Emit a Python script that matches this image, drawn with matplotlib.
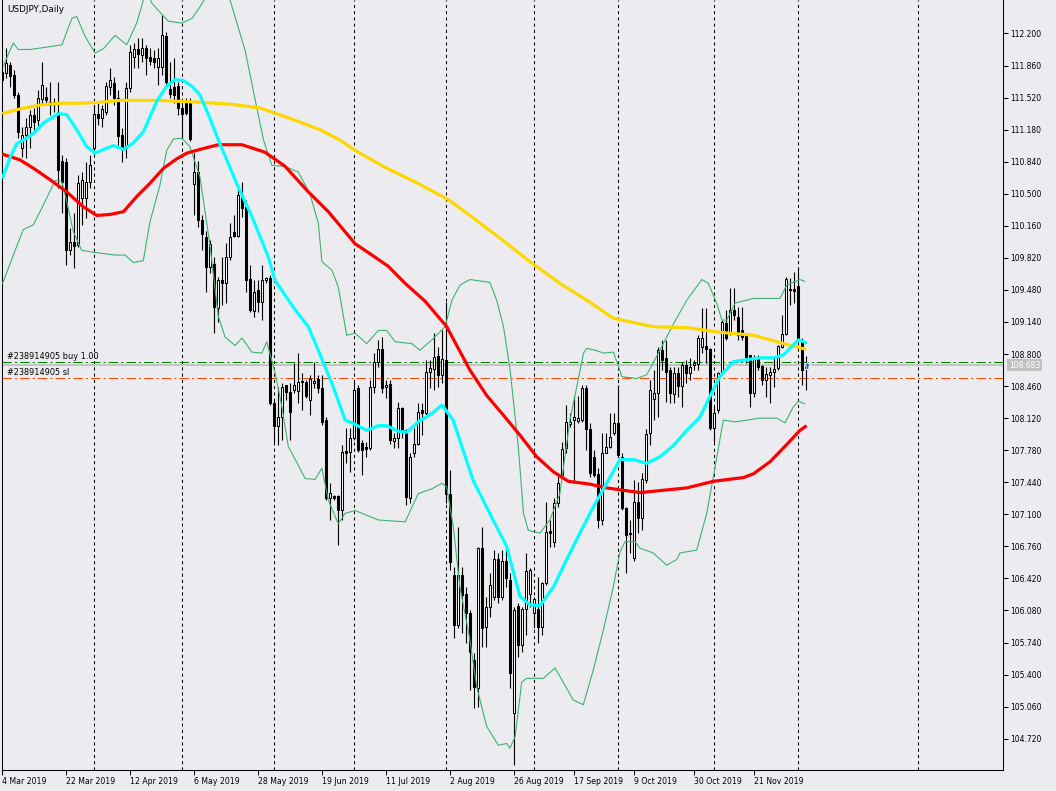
import matplotlib
matplotlib.use("Agg")
import matplotlib.pyplot as plt
import matplotlib.transforms as mtransforms
from matplotlib.path import Path
import numpy as np

# USDJPY daily bars, bar 0 = first visible bar on the chart
opens = [
    111.79, 111.78, 111.87, 111.76, 111.55, 110.99, 111.12, 111.21, 111.34, 111.28,
    111.50, 111.53, 111.47, 111.47, 111.37, 110.85, 110.84, 109.90, 109.99, 109.96,
    110.45, 110.45, 110.62, 110.99, 111.35, 111.30, 111.37, 111.63, 111.67, 111.52,
    111.12, 110.99, 111.62, 111.95, 112.04, 111.97, 112.05, 111.95, 111.94, 111.84,
    111.84, 112.17, 111.61, 111.63, 111.64, 111.41, 111.48, 111.48, 110.60, 110.73,
    110.22, 110.04, 109.72, 109.75, 109.29, 109.59, 109.55, 109.83, 110.09, 110.05,
    110.49, 110.36, 109.60, 109.26, 109.48, 109.35, 109.59, 109.61, 108.28, 108.04,
    108.13, 108.47, 108.40, 108.42, 108.41, 108.51, 108.50, 108.31, 108.49, 108.54,
    108.44, 108.10, 107.27, 107.29, 107.29, 107.15, 107.77, 107.76, 107.91, 108.44,
    107.86, 107.81, 107.80, 108.45, 108.72, 108.85, 108.45, 108.48, 107.88, 107.91,
    108.23, 107.99, 107.27, 107.75, 107.85, 108.21, 108.17, 108.61, 108.64, 108.78,
    108.58, 108.74, 107.32, 106.46, 105.93, 106.46, 106.26, 106.05, 105.55, 105.26,
    106.74, 105.91, 106.12, 106.22, 106.63, 106.22, 106.60, 106.40, 104.99, 106.13,
    105.71, 106.10, 106.26, 106.05, 106.10, 105.91, 106.37, 106.92, 106.81, 107.22,
    107.52, 107.80, 108.06, 108.10, 108.09, 108.10, 108.44, 108.00, 107.71, 107.53,
    107.04, 107.75, 107.81, 107.96, 108.07, 107.71, 107.17, 106.90, 106.64, 107.23,
    107.06, 107.46, 107.96, 108.32, 108.39, 108.84, 108.76, 108.63, 108.38, 108.60,
    108.46, 108.68, 108.60, 108.68, 108.69, 108.87, 108.88, 108.85, 108.02, 108.21,
    108.60, 109.13, 109.03, 109.27, 109.19, 109.05, 109.00, 108.79, 108.39, 108.76,
    108.67, 108.52, 108.58, 108.61, 108.65, 108.87, 109.01, 109.49, 109.49, 109.52,
    108.93, 108.65,
]
highs = [
    111.94, 112.05, 111.90, 111.81, 111.58, 111.21, 111.30, 111.39, 111.41, 111.60,
    111.90, 111.63, 111.69, 111.52, 111.69, 110.91, 110.88, 110.14, 110.30, 110.70,
    110.73, 110.84, 110.91, 111.44, 111.47, 111.44, 111.69, 111.83, 111.74, 111.60,
    111.20, 111.69, 112.08, 112.10, 112.15, 112.15, 112.08, 112.05, 112.02, 112.05,
    112.40, 112.22, 111.90, 111.94, 111.69, 111.47, 111.52, 111.52, 110.93, 110.85,
    110.27, 110.10, 110.01, 109.83, 109.62, 109.83, 109.98, 110.19, 110.27, 110.57,
    110.62, 110.43, 109.74, 109.59, 109.59, 109.74, 109.62, 109.64, 108.31, 108.45,
    108.49, 108.47, 108.49, 108.70, 108.81, 108.60, 108.52, 108.58, 108.72, 108.58,
    108.58, 108.13, 107.43, 107.30, 107.30, 107.84, 108.02, 108.02, 108.52, 108.47,
    107.89, 107.87, 108.52, 108.81, 108.95, 108.98, 108.52, 108.52, 107.96, 108.29,
    108.24, 108.01, 107.75, 108.02, 108.28, 108.28, 108.74, 108.74, 109.02, 108.87,
    109.05, 109.35, 107.57, 106.54, 106.97, 106.54, 106.33, 106.08, 105.63, 106.75,
    106.97, 106.22, 106.48, 106.72, 106.69, 106.72, 106.75, 106.48, 106.12, 106.16,
    106.12, 106.69, 106.53, 106.22, 106.43, 106.38, 107.23, 107.04, 107.27, 107.54,
    107.87, 108.26, 108.17, 108.36, 108.36, 108.47, 108.47, 108.07, 107.78, 107.59,
    107.96, 107.96, 108.17, 108.17, 108.47, 107.75, 107.18, 107.04, 107.46, 107.44,
    107.54, 108.01, 108.52, 108.63, 108.87, 108.95, 108.95, 108.66, 108.66, 108.66,
    108.72, 108.74, 108.76, 108.74, 109.00, 109.29, 109.29, 108.86, 108.24, 108.61,
    109.16, 109.27, 109.50, 109.50, 109.30, 109.30, 109.02, 108.79, 108.79, 108.79,
    108.68, 108.66, 108.66, 108.77, 108.90, 109.21, 109.62, 109.61, 109.67, 109.72,
    108.97, 108.78,
]
lows = [
    111.68, 111.73, 111.63, 111.52, 111.09, 110.89, 110.88, 110.99, 111.18, 111.20,
    111.45, 111.44, 111.34, 111.37, 110.56, 110.30, 109.74, 109.85, 109.71, 109.93,
    110.17, 110.24, 110.56, 110.91, 111.23, 111.21, 111.34, 111.55, 111.44, 111.02,
    110.84, 110.88, 111.58, 111.83, 111.83, 111.90, 111.76, 111.87, 111.83, 111.65,
    111.76, 111.65, 111.52, 111.46, 111.34, 111.09, 111.34, 111.06, 110.27, 110.15,
    109.90, 109.46, 109.66, 109.02, 109.14, 109.32, 109.34, 109.80, 110.04, 110.04,
    110.25, 109.46, 109.25, 109.19, 109.25, 109.16, 109.55, 108.26, 107.87, 107.84,
    107.89, 108.31, 107.89, 108.39, 108.28, 108.21, 108.33, 108.15, 108.44, 108.39,
    108.05, 107.25, 107.04, 107.25, 106.77, 107.04, 107.64, 107.55, 107.89, 107.76,
    107.52, 107.71, 107.78, 108.39, 108.66, 108.39, 108.33, 107.85, 107.80, 107.80,
    107.91, 107.20, 107.22, 107.71, 107.84, 107.94, 108.15, 108.44, 108.42, 108.45,
    108.49, 107.22, 106.51, 105.79, 105.89, 105.84, 105.73, 105.24, 105.05, 105.06,
    105.69, 105.69, 106.01, 106.19, 106.16, 106.19, 106.33, 105.26, 104.44, 105.59,
    105.64, 105.82, 106.12, 105.89, 105.73, 105.82, 106.35, 106.75, 106.75, 107.18,
    107.50, 107.75, 108.03, 107.44, 108.07, 108.08, 107.78, 107.50, 107.50, 106.95,
    106.99, 107.75, 107.80, 107.94, 107.71, 107.15, 106.48, 106.69, 106.61, 106.90,
    106.93, 107.43, 107.84, 108.10, 108.13, 108.63, 108.29, 108.28, 108.28, 108.34,
    108.24, 108.49, 108.52, 108.63, 108.63, 108.81, 108.71, 107.99, 107.87, 108.17,
    108.58, 108.95, 109.00, 109.16, 108.95, 108.95, 108.70, 108.24, 108.34, 108.63,
    108.47, 108.34, 108.28, 108.45, 108.63, 108.86, 109.00, 109.32, 109.34, 108.93,
    108.47, 108.42,
]
closes = [
    111.71, 111.89, 111.75, 111.55, 111.15, 111.12, 111.21, 111.34, 111.26, 111.52,
    111.65, 111.49, 111.44, 111.45, 110.75, 110.62, 109.90, 109.99, 109.95, 110.61,
    110.65, 110.62, 110.81, 111.35, 111.30, 111.40, 111.64, 111.71, 111.52, 111.11,
    110.99, 111.62, 112.00, 112.04, 111.98, 112.05, 111.94, 111.91, 111.90, 111.94,
    112.18, 111.69, 111.56, 111.55, 111.41, 111.35, 111.36, 111.08, 110.73, 110.22,
    110.07, 109.72, 109.97, 109.30, 109.59, 109.55, 109.83, 110.04, 110.05, 110.49,
    110.35, 109.59, 109.27, 109.46, 109.35, 109.59, 109.61, 108.28, 108.04, 108.13,
    108.45, 108.40, 108.19, 108.47, 108.50, 108.50, 108.36, 108.54, 108.51, 108.44,
    108.08, 107.27, 107.33, 107.27, 107.15, 107.76, 107.75, 107.91, 108.42, 107.78,
    107.78, 107.79, 108.45, 108.72, 108.85, 108.44, 108.47, 107.89, 107.91, 108.23,
    107.99, 107.28, 107.71, 107.85, 108.18, 108.17, 108.61, 108.65, 108.77, 108.58,
    108.75, 107.32, 106.59, 105.93, 106.46, 106.24, 106.05, 105.64, 105.27, 106.74,
    105.89, 106.12, 106.35, 106.63, 106.22, 106.60, 106.42, 105.42, 106.08, 105.71,
    106.10, 106.50, 106.51, 106.20, 105.91, 106.37, 106.91, 106.90, 107.22, 107.43,
    107.79, 108.08, 108.08, 108.13, 108.12, 108.44, 108.00, 107.54, 107.52, 107.04,
    107.75, 107.81, 107.92, 108.07, 107.73, 107.17, 106.88, 106.89, 107.23, 107.06,
    107.47, 107.95, 108.42, 108.39, 108.84, 108.74, 108.61, 108.39, 108.60, 108.46,
    108.68, 108.60, 108.66, 108.70, 108.97, 108.97, 108.85, 108.02, 108.17, 108.60,
    109.14, 108.97, 109.27, 109.21, 109.00, 108.98, 108.77, 108.39, 108.76, 108.66,
    108.52, 108.59, 108.61, 108.64, 108.88, 109.01, 109.60, 109.48, 109.47, 108.95,
    108.63, 108.683,
]

# indicator lines: (bar, price)
ma_gold = [
    (0, 111.35), (4.4, 111.40), (9.4, 111.44), (14.4, 111.46), (19.4, 111.46), (24.4, 111.47),
    (29.4, 111.49), (34.4, 111.49), (39.4, 111.49), (44.4, 111.48), (49.4, 111.47), (57, 111.45),
    (64.4, 111.41), (71.9, 111.30), (79.4, 111.18), (84.4, 111.07), (88.2, 110.96), (95.7, 110.78),
    (103.9, 110.61), (111.4, 110.44), (116.9, 110.27), (124.4, 110.03), (131.9, 109.78),
    (139.4, 109.55), (146.9, 109.35), (152.7, 109.18), (159.4, 109.12), (162.7, 109.09),
    (171.2, 109.08), (179.4, 109.03), (187.7, 109.00), (193.7, 108.93), (196.2, 108.90), (201, 108.85),
]
ma_red = [
    (0, 110.92), (4.4, 110.86), (7.8, 110.77), (11.9, 110.65), (16.1, 110.52), (20.3, 110.36),
    (23.6, 110.27), (26.9, 110.28), (30.3, 110.31), (33.6, 110.47), (36.9, 110.61), (40.3, 110.77),
    (43.6, 110.87), (46.1, 110.93), (49.4, 110.97), (54, 111.02), (59.9, 111.02), (65.7, 110.94),
    (70.7, 110.79), (76.5, 110.52), (81.5, 110.31), (88.2, 109.97), (92.4, 109.85), (96.5, 109.73),
    (100.7, 109.55), (105.7, 109.36), (111.1, 109.09), (116.9, 108.63), (121.1, 108.36),
    (125.3, 108.15), (129.4, 107.94), (133.6, 107.71), (137.8, 107.55), (141.5, 107.45),
    (146.9, 107.42), (151.1, 107.38), (154.4, 107.36), (159.4, 107.33), (171.1, 107.38),
    (177.8, 107.45), (185.3, 107.49), (187.8, 107.53), (192, 107.66), (196.1, 107.84),
    (199.4, 107.99), (201.1, 108.04),
]
bb_mid = [
    (0, 110.66), (1.9, 110.88), (3.6, 111.03), (6.1, 111.09), (7.8, 111.14), (10.3, 111.25),
    (14, 111.35), (16.1, 111.34), (18.6, 111.18), (21.1, 111.00), (23.2, 110.93), (25.3, 110.97),
    (27.8, 111.01), (30.3, 110.97), (32.8, 111.04), (35.3, 111.16), (38.6, 111.48), (41.1, 111.64),
    (43.2, 111.71), (45.3, 111.70), (47.4, 111.64), (49.4, 111.55), (51.9, 111.30), (54, 111.07),
    (59, 110.57), (62.4, 110.26), (66.5, 109.83), (68.2, 109.58), (73.2, 109.27), (76.5, 109.09),
    (79, 108.84), (82.4, 108.49), (85.7, 108.10), (87.4, 108.07), (91.1, 107.99), (94, 108.04),
    (96.1, 108.04), (99, 107.98), (101.1, 107.97), (104, 108.08), (107.4, 108.17), (109.9, 108.26),
    (112.7, 108.10), (115.2, 107.78), (117.7, 107.46), (122.7, 107.04), (126.1, 106.76),
    (129.4, 106.23), (131.9, 106.14), (134.4, 106.13), (137.8, 106.33), (141.1, 106.62),
    (144.4, 106.90), (147.8, 107.18), (151.1, 107.43), (154.4, 107.68), (157.8, 107.68),
    (161.1, 107.64), (164.4, 107.71), (167.8, 107.83), (171.1, 107.99), (174.4, 108.13),
    (176.9, 108.35), (179.4, 108.56), (182.8, 108.72), (186.1, 108.74), (189.4, 108.76),
    (192.8, 108.76), (195.3, 108.79), (197.4, 108.88), (199.1, 108.95), (200.4, 108.93), (201.1, 108.91),
]
bb_upper = [
    (0.25, 111.85), (1.1, 111.94), (2.75, 112.10), (4, 112.03), (6.9, 112.03), (11.9, 112.06),
    (14.9, 112.08), (17.4, 112.36), (18.6, 112.38), (20.7, 112.17), (23.2, 111.99), (25.3, 112.04),
    (28.2, 112.18), (31.1, 112.08), (33.6, 112.31), (35.3, 112.56), (36.2, 112.64), (37.4, 112.52),
    (41.5, 112.33), (44.9, 112.31), (47.4, 112.36), (49.4, 112.48), (51.9, 112.66), (56.9, 112.56),
    (60.7, 112.02), (63.2, 111.50), (65.3, 111.07), (67.4, 110.80), (70.7, 110.79), (74, 110.73),
    (76.9, 110.50), (79, 110.19), (79.9, 109.78), (82.4, 109.69), (84, 109.51), (86.1, 109.00),
    (88.2, 109.02), (91.1, 108.91), (94, 109.05), (96.1, 109.05), (98.2, 108.93), (102.4, 108.91),
    (104.4, 108.84), (107.4, 108.95), (110.7, 109.09), (112.4, 109.37), (114.4, 109.53),
    (116.9, 109.59), (121.9, 109.56), (123.6, 109.37), (125.3, 109.09), (126.9, 108.65),
    (129, 107.82), (130.3, 107.11), (131.5, 106.93), (134.4, 106.90), (136.9, 107.04),
    (139.4, 107.32), (141.9, 108.10), (143.6, 108.45), (145.3, 108.81), (146.1, 108.86),
    (148.2, 108.84), (150.3, 108.81), (152.8, 108.82), (154.9, 108.56), (158.6, 108.54),
    (161.1, 108.58), (164.4, 108.84), (167.8, 109.12), (171.1, 109.37), (174.9, 109.59),
    (176.5, 109.55), (178.6, 109.34), (179.9, 109.16), (181.1, 109.16), (183.2, 109.34),
    (187.8, 109.39), (194.4, 109.39), (196.1, 109.53), (199.4, 109.59), (200.7, 109.57),
]
bb_lower = [
    (0, 109.54), (2.75, 109.85), (5.25, 110.12), (7.75, 110.17), (10.25, 110.38), (13.2, 110.64),
    (14.85, 110.63), (16.1, 110.42), (17.75, 110.10), (19.85, 109.90), (22.75, 109.88), (28.2, 109.85),
    (30.7, 109.85), (32.75, 109.77), (35.25, 109.79), (36.9, 110.20), (39.4, 110.59), (41.1, 110.96),
    (42.75, 111.08), (44.85, 111.09), (46.9, 111.00), (49.4, 110.68), (51.9, 109.96), (54, 109.20),
    (55.7, 108.98), (58.2, 108.89), (59.9, 108.97), (62.4, 108.82), (64.9, 108.81), (66.1, 108.93),
    (68.2, 108.60), (69.9, 108.24), (71.5, 107.82), (74, 107.62), (75.7, 107.48), (78.2, 107.47),
    (79.9, 107.59), (81.5, 107.25), (84, 107.00), (85.7, 107.11), (88.2, 107.14), (94, 107.04),
    (100.7, 107.02), (104, 107.32), (107.4, 107.37), (109.9, 107.43), (111.1, 107.39),
    (112.75, 106.97), (114.4, 106.33), (116.9, 105.77), (118.6, 105.27), (121.1, 104.85),
    (124, 104.65), (126.1, 104.67), (126.9, 104.62), (128.2, 104.74), (129.85, 105.32),
    (131.1, 105.36), (135.25, 105.36), (138.2, 105.47), (142.75, 105.13), (145.25, 105.08),
    (147.75, 105.45), (150.25, 105.87), (152.75, 106.33), (154.4, 106.70), (155.7, 106.81),
    (158.2, 106.81), (159.4, 106.74), (162.75, 106.69), (166.1, 106.56), (168.6, 106.62),
    (169.4, 106.69), (173.6, 106.72), (176.1, 107.11), (178.2, 107.60), (180.25, 108.10),
    (183.2, 108.08), (189.4, 108.12), (193.6, 108.12), (195.7, 108.07), (197.75, 108.24),
    (199, 108.30), (200.7, 108.27),
]

price_ticks = [112.200, 111.860, 111.520, 111.180, 110.840, 110.500, 110.160, 109.820,
               109.480, 109.140, 108.800, 108.460, 108.120, 107.780, 107.440, 107.100,
               106.760, 106.420, 106.080, 105.740, 105.400, 105.060, 104.720]
date_labels = ["4 Mar 2019", "22 Mar 2019", "12 Apr 2019", "6 May 2019", "28 May 2019",
               "19 Jun 2019", "11 Jul 2019", "2 Aug 2019", "26 Aug 2019", "17 Sep 2019",
               "9 Oct 2019", "30 Oct 2019", "21 Nov 2019"]
date_label_bars = [0, 16, 32, 48, 64, 80, 96, 112, 128, 143, 158, 173, 188]
month_start_bars = [23, 45, 68, 88, 111, 133, 154, 178, 199, 229]

order_id = "#238914905"
buy_price = 108.715
sl_price = 108.546
bid_price = 108.683

BG = "#ECECF0"
W, H = 1056, 791

fig = plt.figure(figsize=(W / 100, H / 100), dpi=100, facecolor=BG)
ax = fig.add_axes([2.3 / W, 21 / H, 1001 / W, 770 / H])
ax.set_facecolor(BG)
ax.set_xlim(0, 250.25)
ax.set_ylim(104.388, 112.555)

# period separators
for b in month_start_bars:
    ax.axvline(b, color="black", lw=0.75, ls=(0, (3, 3)), zorder=1)

# order / bid lines
ax.axhline(bid_price, color="#C0C0C0", lw=1.3, zorder=1.2)
ax.axhline(buy_price, color="#008000", lw=0.75, ls=(0, (9, 3, 2, 3)), zorder=1.3)
ax.axhline(sl_price, color="#FF4500", lw=0.75, ls=(0, (9, 3, 2, 3)), zorder=1.3)

blend = mtransforms.blended_transform_factory(ax.transAxes, ax.transData)
ax.annotate(order_id + " buy 1.00", xy=(5 / 1001, buy_price), xycoords=blend,
            xytext=(0, 2), textcoords="offset points", fontsize=5.9,
            ha="left", va="baseline", zorder=6)
ax.annotate(order_id + " sl", xy=(5 / 1001, sl_price), xycoords=blend,
            xytext=(0, 2), textcoords="offset points", fontsize=5.9,
            ha="left", va="baseline", zorder=6)

# candles
o = np.array(opens)
h = np.array(highs)
l = np.array(lows)
c = np.array(closes)
x = np.arange(len(c))
ax.vlines(x, l, h, color="black", lw=0.8, zorder=2)
lo = np.minimum(o, c)
hi = np.maximum(o, c)
face = np.where(c >= o, "white", "black")
ax.bar(x, hi - lo, bottom=lo, width=0.5, color=face, edgecolor="black",
       linewidth=0.75, zorder=3)

# indicators
def draw_line(pts, color, lw, z):
    bx, py = zip(*pts)
    ax.plot(bx, py, color=color, lw=lw, zorder=z, solid_capstyle="butt")

draw_line(bb_upper, "#3CB371", 0.8, 4)
draw_line(bb_lower, "#3CB371", 0.8, 4)
draw_line(ma_gold, "#FFD700", 2.3, 5)
draw_line(ma_red, "#FF0000", 2.3, 5.2)
draw_line(bb_mid, "#00FFFF", 2.3, 5.4)

# trade arrow
arrow = Path([(0, 0), (1, -1), (0.4, -1), (0.4, -2), (-0.4, -2), (-0.4, -1), (-1, -1), (0, 0)])
ax.plot([len(c) - 0.9], [buy_price], marker=arrow, markersize=10, color="#1F64C0",
        markeredgecolor="white", markeredgewidth=0.6, zorder=7, clip_on=False)

# axes styling
for side in ("left", "bottom", "right"):
    ax.spines[side].set_linewidth(0.75)
    ax.spines[side].set_color("black")
ax.spines["top"].set_visible(False)

ax.yaxis.tick_right()
ax.set_yticks(price_ticks)
ax.set_yticklabels([f"{v:.3f}" for v in price_ticks])
ax.tick_params(axis="y", direction="out", length=3.6, width=0.75, pad=1.2,
               labelsize=5.5, left=False, right=True)

ax.set_xticks(date_label_bars)
ax.set_xticklabels(date_labels)
ax.tick_params(axis="x", direction="out", length=3.6, width=0.75, pad=1.5,
               labelsize=5.6)
for lbl in ax.get_xticklabels():
    lbl.set_horizontalalignment("left")

# current price box on the scale
fig_blend = mtransforms.blended_transform_factory(fig.transFigure, ax.transData)
fig.text(1009 / W, bid_price, f"{bid_price:.3f}", transform=fig_blend, fontsize=5.5,
         color="white", ha="left", va="center",
         bbox=dict(boxstyle="square,pad=0.25", fc="#C0C0C0", ec="none"))

fig.text(7 / W, 1 - 12.3 / H, "USDJPY,Daily", fontsize=6.4, ha="left", va="baseline")

fig.savefig("out.png", dpi=100, facecolor=BG)
